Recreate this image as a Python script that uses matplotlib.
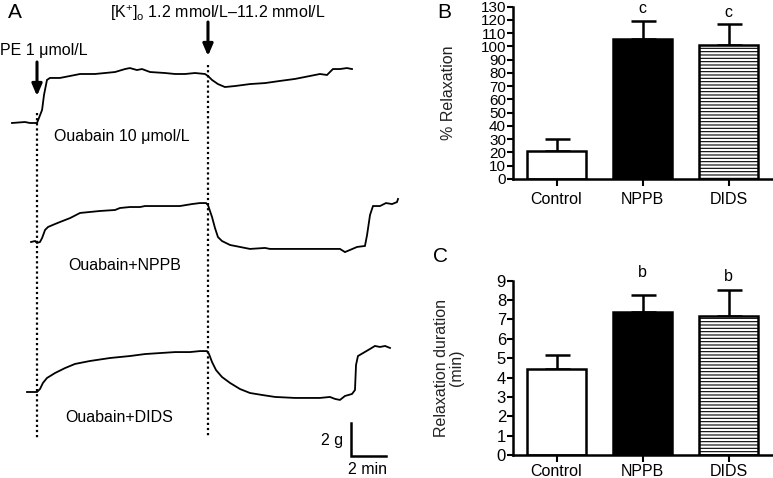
import matplotlib
matplotlib.use("Agg")
import matplotlib.pyplot as plt
import numpy as np

plt.rcParams['font.family'] = ['Liberation Sans', 'DejaVu Sans']
plt.rcParams['mathtext.fontset'] = 'custom'
plt.rcParams['mathtext.rm'] = 'Liberation Sans'
plt.rcParams['mathtext.it'] = 'Liberation Sans'
plt.rcParams['hatch.linewidth'] = 0.8
plt.rcParams['hatch.color'] = '#555555'

# ---------------- data ----------------
# Panel A traces: time (min, relative to PE addition), tension change (g)
t_ouabain = [-1.43, -0.69, -0.40, 0, 0.11, 0.29, 0.40, 0.57, 0.74, 1.31, 1.89, 2.46, 3.31, 3.89,
             4.46, 5.03, 5.31, 5.71, 6.0, 6.46, 7.31, 7.89, 8.46, 9.03, 9.60, 9.77, 10.0, 10.34,
             10.74, 11.31, 12.17, 13.03, 13.89, 14.74, 15.60, 16.17, 16.57, 16.91, 17.31, 17.71, 18.0]
g_ouabain = [0, 0.06, 0, 0, 0.30, 0.79, 1.70, 2.61, 2.73, 2.73, 2.85, 2.97, 2.97, 3.03,
             3.09, 3.27, 3.33, 3.21, 3.27, 3.09, 3.03, 2.97, 2.97, 3.03, 2.97, 2.85, 2.61, 2.36,
             2.18, 2.24, 2.36, 2.42, 2.55, 2.67, 2.85, 2.97, 2.91, 3.27, 3.27, 3.33, 3.27]

t_nppb = [-0.34, -0.11, 0, 0.17, 0.29, 0.46, 0.63, 1.03, 1.31, 1.89, 2.46, 3.03, 3.60, 4.46,
          4.74, 5.31, 5.89, 6.17, 7.03, 8.17, 8.86, 9.31, 9.66, 9.77, 10.0, 10.17, 10.34, 10.57,
          11.03, 11.60, 12.17, 13.03, 13.31, 15.03, 17.31, 17.60, 17.89, 18.29, 18.74, 18.86,
          19.03, 19.20, 19.60, 19.94, 20.29, 20.57, 20.63]
g_nppb = [0, 0.06, -0.06, 0, 0.24, 0.73, 0.91, 1.09, 1.21, 1.45, 1.76, 1.82, 1.88, 1.94,
          2.06, 2.12, 2.12, 2.18, 2.18, 2.18, 2.30, 2.36, 2.36, 2.24, 1.52, 0.85, 0.30, 0.06,
          -0.18, -0.30, -0.42, -0.36, -0.42, -0.42, -0.42, -0.61, -0.48, -0.30, -0.24, 0.42,
          1.64, 2.18, 2.18, 2.36, 2.30, 2.42, 2.61]

t_dids = [-0.57, 0, 0.17, 0.34, 0.57, 1.03, 1.60, 2.17, 3.03, 4.17, 5.31, 6.17, 7.03, 7.89,
          8.74, 9.31, 9.71, 9.83, 10.0, 10.23, 10.57, 11.03, 11.60, 12.17, 12.86, 13.60, 14.74,
          16.17, 16.74, 17.03, 17.31, 17.60, 18.0, 18.17, 18.23, 18.34, 18.63, 19.03, 19.31,
          19.60, 19.89, 20.17]
g_dids = [0, 0, 0.18, 0.55, 0.85, 1.15, 1.45, 1.70, 1.88, 2.06, 2.18, 2.30, 2.36, 2.42,
          2.42, 2.48, 2.48, 2.30, 1.82, 1.33, 0.91, 0.55, 0.18, -0.06, -0.18, -0.30, -0.36,
          -0.36, -0.30, -0.42, -0.48, -0.24, -0.12, 0.12, 1.64, 2.18, 2.36, 2.61, 2.79,
          2.73, 2.79, 2.67]

pe_time = 0.0
k_time = 9.77
trace_labels = ['Ouabain 10 μmol/L', 'Ouabain+NPPB', 'Ouabain+DIDS']

# Panels B and C
groups = ['Control', 'NPPB', 'DIDS']
relax_mean = [21, 106, 101]
relax_err = [9, 13.5, 16]
relax_sig = ['', 'c', 'c']
dur_mean = [4.44, 7.40, 7.18]
dur_err = [0.72, 0.86, 1.34]
dur_sig = ['', 'b', 'b']

# ---------------- figure ----------------
W, H = 773, 478
fig = plt.figure(figsize=(W / 100, H / 100), dpi=100)

def px(x, y):
    return x / W, 1 - y / H

# ---------- Panel A ----------
axA = fig.add_axes([0, 0, 420 / W, 1])
xs, ys = 17.5, 16.5  # px per min, px per g
axA.set_xlim(-37 / xs, (420 - 37) / xs)
axA.set_ylim(0, H / ys)
axA.axis('off')

offsets = [(H - 123) / ys, (H - 242) / ys, (H - 392) / ys]
for tt, gg, off in zip([t_ouabain, t_nppb, t_dids], [g_ouabain, g_nppb, g_dids], offsets):
    axA.plot(tt, np.array(gg) + off, color='black', lw=1.3, solid_joinstyle='miter')

dot = dict(color='black', lw=1.6, linestyle=(0, (1, 1.3)))
axA.plot([pe_time, pe_time], [(H - 113) / ys, (H - 438) / ys], **dot)
axA.plot([k_time, k_time], [(H - 65) / ys, (H - 438) / ys], **dot)

arrow = dict(arrowstyle='-|>,head_length=0.7,head_width=0.3', lw=2.2, color='black',
             shrinkA=0, shrinkB=0)
axA.annotate('', xy=(pe_time, (H - 96) / ys), xytext=(pe_time, (H - 62) / ys), arrowprops=arrow)
axA.annotate('', xy=(k_time, (H - 56) / ys), xytext=(k_time, (H - 22) / ys), arrowprops=arrow)

# scale bar 2 g / 2 min
sx0 = (351 - 37) / xs
sy0 = (H - 456) / ys
axA.plot([sx0, sx0, sx0 + 2], [sy0 + 2, sy0, sy0], color='black', lw=1.8,
         solid_joinstyle='miter')

fs = 11.5
fig.text(*px(8, 13), 'A', fontsize=15, ha='left', va='center')
fig.text(*px(0, 51), 'PE 1 μmol/L', fontsize=fs, ha='left', va='center')
fig.text(*px(110, 13), r'[K$^{+}$]$_{\mathrm{o}}$ 1.2 mmol/L–11.2 mmol/L', fontsize=fs,
         ha='left', va='center')
fig.text(*px(54, 137), trace_labels[0], fontsize=fs, ha='left', va='center')
fig.text(*px(68, 265), trace_labels[1], fontsize=fs, ha='left', va='center')
fig.text(*px(65, 417), trace_labels[2], fontsize=fs, ha='left', va='center')
fig.text(*px(343, 440), '2 g', fontsize=fs, ha='right', va='center')
fig.text(*px(367, 470), '2 min', fontsize=fs, ha='center', va='center')

# ---------- Panels B and C ----------
def bar_panel(rect, means, errs, sigs, ylim, ticks, ylabel, sig_y, label_x, xpad, ysize):
    ax = fig.add_axes(rect)
    x = np.arange(len(groups))
    fills = ['white', 'black', 'white']
    hatches = [None, None, '-----']
    for i in range(len(groups)):
        ax.errorbar(x[i], means[i], yerr=[[0], [errs[i]]], fmt='none', ecolor='black',
                    elinewidth=1.8, capsize=9, capthick=1.8, zorder=1)
        ax.bar(x[i], means[i], width=0.686, color=fills[i], edgecolor='black',
               linewidth=1.8, hatch=hatches[i], zorder=2)
        if sigs[i]:
            ax.text(x[i], sig_y[i], sigs[i], ha='center', va='center', fontsize=11.5)
    ax.set_xlim((513 - 556.5) / 86, (773 - 556.5) / 86)
    ax.set_ylim(*ylim)
    ax.set_yticks(ticks)
    ax.set_xticks(x)
    ax.set_xticklabels(groups)
    for s in ['top', 'right']:
        ax.spines[s].set_visible(False)
    for s in ['left', 'bottom']:
        ax.spines[s].set_linewidth(1.8)
    ax.tick_params(axis='y', direction='out', length=4, width=1.5, labelsize=ysize, pad=1)
    ax.tick_params(axis='x', direction='out', length=5, width=1.5, labelsize=11.5, pad=xpad)
    ax.set_ylabel(ylabel, fontsize=11.5, color='#222222', linespacing=1.0)
    ax.yaxis.set_label_coords(label_x, 0.5)
    return ax

axB = bar_panel([513 / W, (H - 179) / H, 260 / W, 172.3 / H], relax_mean, relax_err, relax_sig,
                (0, 130), np.arange(0, 131, 10), '% Relaxation', [None, 128.3, 125.3], -0.22,
                4, 11)
axC = bar_panel([513 / W, (H - 455) / H, 260 / W, 174.3 / H], dur_mean, dur_err, dur_sig,
                (0, 9), np.arange(0, 10, 1), 'Relaxation duration\n(min)', [None, 9.4, 9.24], -0.19,
                1.5, 12)

fig.text(*px(437, 12), 'B', fontsize=15, ha='left', va='center')
fig.text(*px(433, 256), 'C', fontsize=15, ha='left', va='center')

fig.savefig('out.png', dpi=100)
